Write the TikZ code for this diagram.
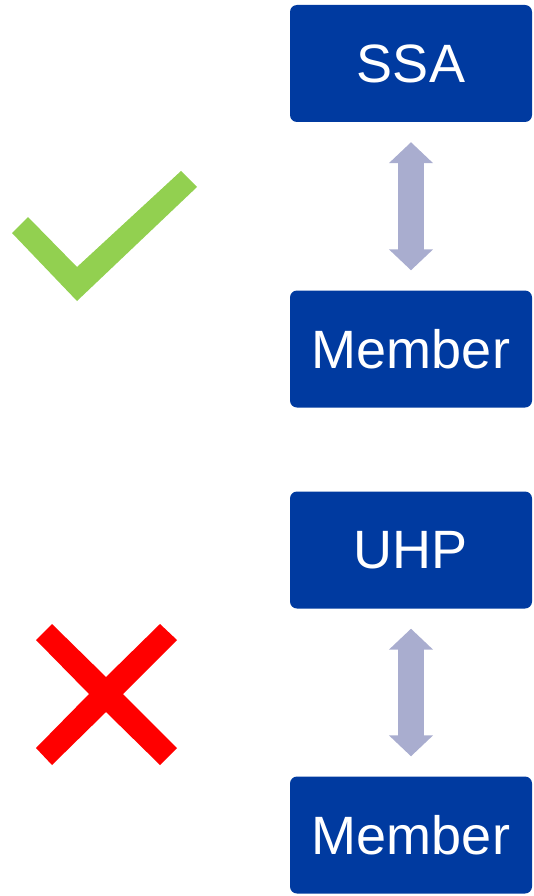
\documentclass[tikz,border=0pt]{standalone}
\usepackage{fontspec}
\setsansfont{Liberation Sans}
\usepackage{xcolor}
\usetikzlibrary{
    positioning,      % For placing nodes relative to each other
    arrows.meta       % For the wide triangle arrow tips
}
\definecolor{BoxColor}{HTML}{003AA0}
\definecolor{ArrowColor}{HTML}{A9ADCF}
\definecolor{TickColor}{HTML}{92D050}
\definecolor{CrossColor}{HTML}{FF0000}

\begin{document}
\begin{tikzpicture}[
    % One unit is one pixel of the reference, y pointing down
    x=1pt, y=-1pt,
    % Set the default font to sans-serif to match the image
    font=\sffamily,
]
    % --- Define TikZ styles for diagram elements ---

    \tikzset{
        % Style for the blue blocks
        block/.style={
            shape=rectangle,
            rounded corners=7pt,
            fill=BoxColor,
            text=white,
            align=center,
            minimum width=242pt,
            minimum height=117pt,
            inner sep=0pt,
            font=\sffamily\fontsize{54}{60}\selectfont,
        },
        % Style for the wide double-headed arrows
        arrow/.style={
            draw=ArrowColor,
            line width=26pt,
            {Triangle[length=21pt,width=43pt,fill=ArrowColor]}-{Triangle[length=21pt,width=43pt,fill=ArrowColor]},
            shorten <=20pt,
            shorten >=20pt,
        }
    }

    % Fix the page to the reference's size
    \useasboundingbox (0,0) rectangle (533,896);

    % 1. Place the blocks
    \node[block] (ssa)  at (411,63.5)  {SSA};
    \node[block] (mem1) at (411,349)   {Member};
    \node[block] (uhp)  at (411,550)   {UHP};
    \node[block] (mem2) at (411,835)   {Member};

    % 2. Draw the arrows between the blocks
    \draw[arrow] (ssa.south) -- (mem1.north);
    \draw[arrow] (uhp.south) -- (mem2.north);

    % 3. Green tick beside the upper pair
    \fill[TickColor] (12,233) -- (28,217) -- (77,267) -- (181,171)
        -- (197,187) -- (77,301) -- cycle;

    % 4. Red cross beside the lower pair
    \fill[CrossColor] (36,640) -- (52,624) -- (106,677) -- (160,624)
        -- (177,640) -- (123,694) -- (177,748) -- (160,765)
        -- (106,712) -- (52,765) -- (36,748) -- (89,694) -- cycle;

\end{tikzpicture}
\end{document}
